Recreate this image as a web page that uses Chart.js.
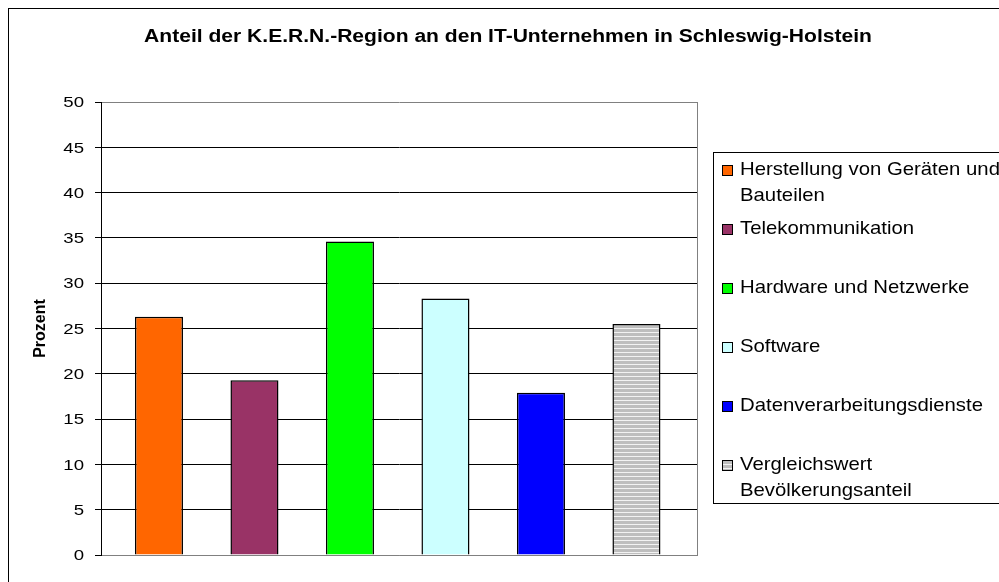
<!DOCTYPE html>
<html>
<head>
<meta charset="utf-8">
<script src="https://cdn.jsdelivr.net/npm/chart.js@4/dist/chart.umd.min.js"></script>
<style>
    html, body { margin: 0; padding: 0; background: #fff; }
    #wrap { width: 999px; height: 582px; }
</style>
</head>
<body>
<div id="wrap"><canvas id="chart" width="999" height="582"></canvas></div>
<script>
const chartTitle = 'Anteil der K.E.R.N.-Region an den IT-Unternehmen in Schleswig-Holstein';
const axisTitle = 'Prozent';
const seriesNames = [
    'Herstellung von Geräten und\nBauteilen',
    'Telekommunikation',
    'Hardware und Netzwerke',
    'Software',
    'Datenverarbeitungsdienste',
    'Vergleichswert\nBevölkerungsanteil'
];
const seriesValues = [26.3, 19.3, 34.6, 28.3, 17.9, 25.5];
const seriesColors = ['#FF6600', '#993366', '#00FF00', '#CCFFFF', '#0000FF', 'stripes'];
const yTicks = [0, 5, 10, 15, 20, 25, 30, 35, 40, 45, 50];

const FONT = '"Liberation Sans", Arial, sans-serif';

// grey bar with light horizontal stripes
function stripePattern() {
    const c = document.createElement('canvas');
    c.width = 4;
    c.height = 4;
    const g = c.getContext('2d');
    g.fillStyle = '#BEBEBE';
    g.fillRect(0, 0, 4, 4);
    g.fillStyle = '#F2F2F2';
    g.fillRect(0, 0, 4, 1);
    return g.createPattern(c, 'repeat');
}

// text drawn a bit wider, like the original rendering
function wideText(c, text, x, y, stretch) {
    c.save();
    c.translate(x, y);
    c.scale(stretch, 1);
    c.fillText(text, 0, 0);
    c.restore();
}

const ctx = document.getElementById('chart').getContext('2d');
const pattern = stripePattern();
const fills = seriesColors.map(c => c === 'stripes' ? pattern : c);

const datasets = seriesNames.map((name, i) => ({
    label: name,
    data: [{ x: i, y: seriesValues[i] }],
    backgroundColor: fills[i],
    borderColor: '#000',
    borderWidth: 1.5,
    barPercentage: 0.503,
    categoryPercentage: 1,
    grouped: false
}));

const decor = {
    id: 'decor',
    afterDraw(chart) {
        const c = chart.ctx;
        const a = chart.chartArea;
        const yScale = chart.scales.y;
        c.save();

        // right edge of plot area
        c.strokeStyle = '#808080';
        c.lineWidth = 1;
        c.beginPath();
        c.moveTo(Math.round(a.right) + 0.5, a.top);
        c.lineTo(Math.round(a.right) + 0.5, a.bottom);
        c.stroke();

        // outer frame
        c.strokeStyle = '#000';
        c.strokeRect(8.5, 8.5, 1200, 1200);

        c.fillStyle = '#000';

        // y tick labels
        c.font = '15.5px ' + FONT;
        c.textAlign = 'right';
        c.textBaseline = 'middle';
        yScale.ticks.forEach(t => {
            wideText(c, String(t.value), 84, yScale.getPixelForValue(t.value) + 1, 1.2);
        });

        // title
        c.font = 'bold 18px ' + FONT;
        c.textAlign = 'center';
        c.textBaseline = 'middle';
        wideText(c, chartTitle, 508, 37, 1.17);

        // legend
        c.strokeStyle = '#000';
        c.strokeRect(713.5, 152.5, 400, 351);
        c.font = '19px ' + FONT;
        c.textAlign = 'left';
        c.textBaseline = 'alphabetic';
        chart.data.datasets.forEach((ds, i) => {
            const base = 175 + 59 * i;
            c.fillStyle = ds.backgroundColor;
            c.fillRect(722, base - 10, 10, 10);
            c.strokeStyle = '#000';
            c.strokeRect(722.5, base - 9.5, 10, 10);
            c.fillStyle = '#000';
            ds.label.split('\n').forEach((line, j) => {
                wideText(c, line, 740, base + 26 * j, 1.07);
            });
        });
        c.restore();
    }
};

new Chart(ctx, {
    type: 'bar',
    data: { datasets },
    options: {
        responsive: false,
        animation: false,
        devicePixelRatio: 1,
        layout: { padding: { top: 102, right: 302, bottom: 27, left: 0 } },
        plugins: {
            legend: { display: false },
            title: { display: false },
            tooltip: { enabled: false }
        },
        scales: {
            x: {
                type: 'linear',
                offset: false,
                min: -0.607,
                max: 5.634,
                afterBuildTicks(s) { s.ticks = seriesValues.map((v, i) => ({ value: i })); },
                ticks: { display: false },
                grid: { display: false, drawTicks: false, offset: false },
                border: { color: '#808080' },
                afterFit(s) { s.height = 0; }
            },
            y: {
                min: 0,
                max: 50,
                afterBuildTicks(s) { s.ticks = yTicks.map(v => ({ value: v })); },
                ticks: { color: 'rgba(0,0,0,0)', font: { size: 16, family: FONT }, padding: 10 },
                grid: {
                    color: c => (c.tick && (c.tick.value === 0 || c.tick.value === 50)) ? '#808080' : '#000',
                    tickColor: '#000',
                    tickLength: 6
                },
                border: { color: '#000' },
                title: {
                    display: true,
                    text: axisTitle,
                    color: '#000',
                    font: { size: 16, weight: 'bold', family: FONT },
                    padding: { top: 31 }
                },
                afterFit(s) { s.width = 101; }
            }
        }
    },
    plugins: [decor]
});
</script>
</body>
</html>
